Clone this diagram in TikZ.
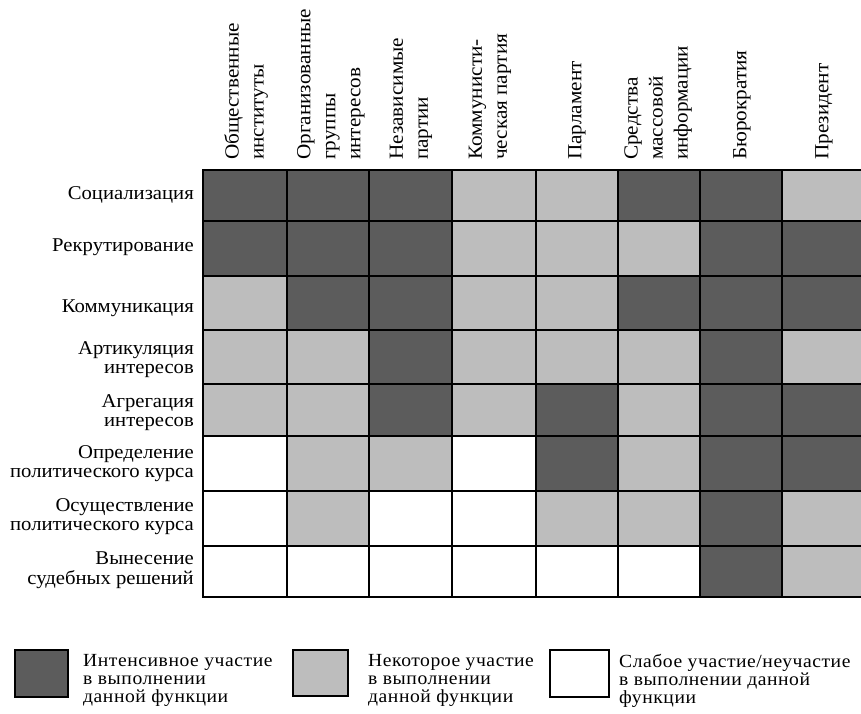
\documentclass[tikz,border=0pt]{standalone}
\usepackage{fontspec}
\setmainfont{Liberation Serif}[FakeStretch=1.06]
\newfontfamily\legendfont{Liberation Serif}[FakeStretch=1.06,LetterSpace=3]
\definecolor{intense}{gray}{0.36}
\definecolor{partial}{gray}{0.74}
\colorlet{cD}{intense}
\colorlet{cL}{partial}
\colorlet{cW}{white}
\begin{document}
\begin{tikzpicture}[x=1pt,y=-1pt,
  rowlabel/.style={anchor=north east,align=right,inner sep=0pt,
    font=\fontsize{19.5}{19.5}\selectfont},
  colhead/.style={rotate=90,anchor=west,align=left,inner sep=0pt,
    font=\fontsize{20}{25}\selectfont},
  legtext/.style={anchor=north west,align=left,inner sep=0pt,
    font=\legendfont\fontsize{18.5}{18}\selectfont},
  gridline/.style={line width=2pt,black},
  legbox/.style={draw=black,line width=1.4pt}
]
\clip (0,0) rectangle (861,713);

% cell shading: D = intensive, L = partial, W = weak/none
\foreach \cells [count=\r] in {
  {D,D,D,L,L,D,D,L},
  {D,D,D,L,L,L,D,D},
  {L,D,D,L,L,D,D,D},
  {L,L,D,L,L,L,D,L},
  {L,L,D,L,D,L,D,D},
  {W,L,L,W,D,L,D,D},
  {W,L,W,W,L,L,D,L},
  {W,W,W,W,W,W,D,L}} {
  \foreach \v [count=\k] in \cells {
    \pgfmathsetmacro\xa{{203,287,369,452,536,618,700,782,865}[\k-1]}
    \pgfmathsetmacro\xb{{203,287,369,452,536,618,700,782,865}[\k]}
    \pgfmathsetmacro\ya{{170,221,276,330,384,436,491,546,597}[\r-1]}
    \pgfmathsetmacro\yb{{170,221,276,330,384,436,491,546,597}[\r]}
    \fill[fill=c\v] (\xa,\ya) rectangle (\xb,\yb);
  }
}

% grid lines (the last column runs off the right edge)
\foreach \y in {170,221,276,330,384,436,491,546,597}
  \draw[gridline] (202,\y) -- (866,\y);
\foreach \x in {203,287,369,452,536,618,700,782}
  \draw[gridline] (\x,169) -- (\x,598);

% column headings
\node[colhead] (h1) at (246,160) {Общественные\\институты};
\node[colhead] (h2) at (331,160) {Организованные\\группы\\интересов};
\node[colhead] (h3) at (411,160) {Независимые\\партии};
\node[colhead] (h4) at (490,160) {Коммунисти-\\ческая партия};
\node[colhead] (h5) at (577,160) {Парламент};
\node[colhead] (h6) at (658,160) {Средства\\массовой\\информации};
\node[colhead] (h7) at (742,160) {Бюрократия};
\node[colhead] (h8) at (824,160) {Президент};

% row headings
\node[rowlabel] (r1) at (194,186) {Социализация};
\node[rowlabel] (r2) at (194,239) {Рекрутирование};
\node[rowlabel] (r3) at (194,300) {Коммуникация};
\node[rowlabel] (r4) at (194,341) {Артикуляция\\интересов};
\node[rowlabel] (r5) at (194,394) {Агрегация\\интересов};
\node[rowlabel] (r6) at (194,445) {Определение\\политического курса};
\node[rowlabel] (r7) at (194,498) {Осуществление\\политического курса};
\node[rowlabel] (r8) at (194,552) {Вынесение\\судебных решений};

% legend
\draw[legbox,fill=intense] (15,650) rectangle (68,697);
\node[legtext] (l1) at (83,654) {Интенсивное участие\\в выполнении\\данной функции};
\draw[legbox,fill=partial] (293,650) rectangle (348,696);
\node[legtext] (l2) at (368,654) {Некоторое участие\\в выполнении\\данной функции};
\draw[legbox,fill=white] (550,650) rectangle (609,697);
\node[legtext] (l3) at (619,654) {Слабое участие/неучастие\\в выполнении данной\\функции};
\end{tikzpicture}
\end{document}
